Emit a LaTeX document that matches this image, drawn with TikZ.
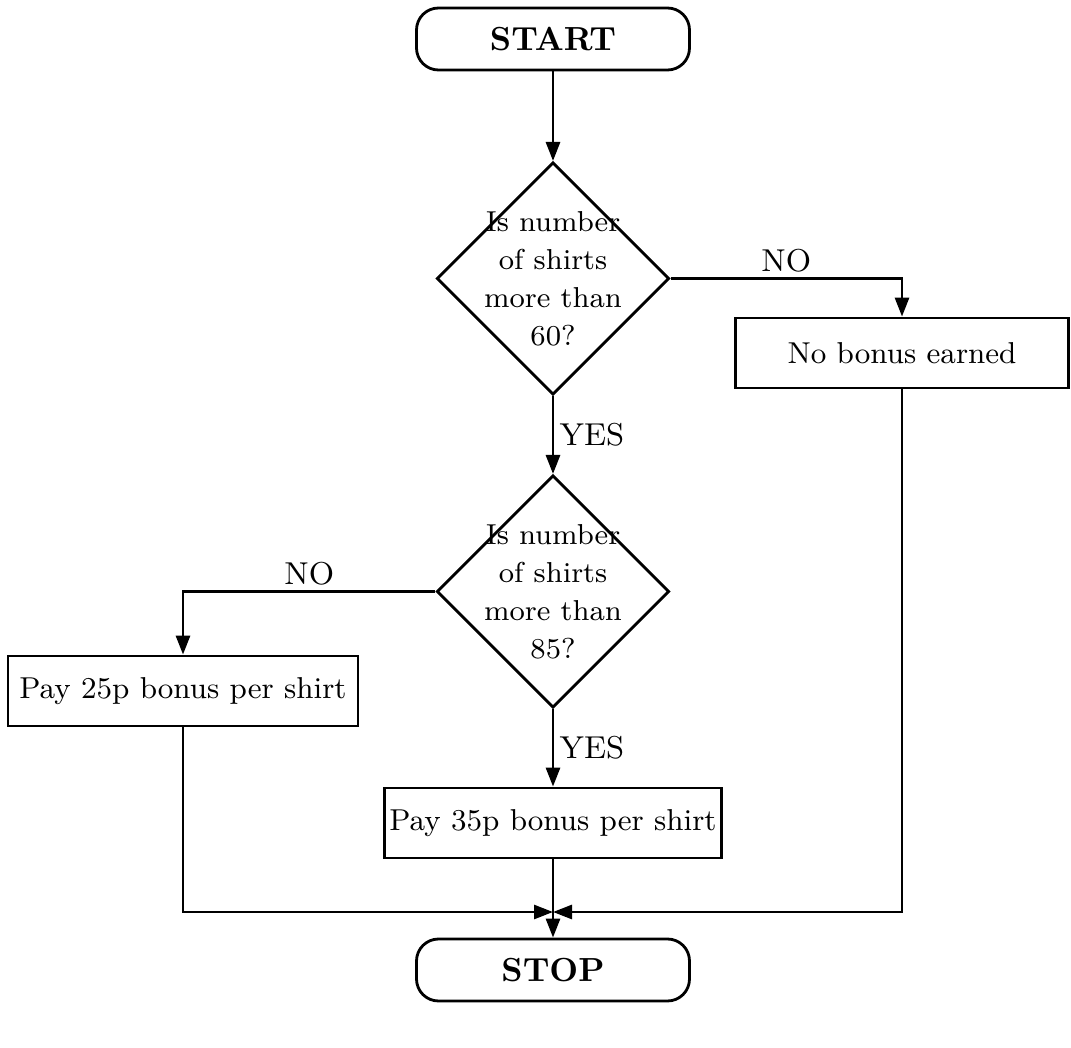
\documentclass[tikz,border=0pt]{standalone}
\usetikzlibrary{shapes.geometric,arrows.meta}

\begin{document}
\begin{tikzpicture}[
    terminal/.style={rectangle, rounded corners=0.22cm, draw, thick, minimum width=2.73cm, minimum height=0.62cm, font=\fontsize{9.5}{11}\selectfont\bfseries},
    decision/.style={diamond, draw, thick, align=center, inner sep=-1mm, minimum size=2.27cm, font=\fontsize{8.2}{10.8}\selectfont},
    process/.style={rectangle, draw, thick, minimum height=0.7cm, inner xsep=0.5mm, font=\fontsize{8.6}{11}\selectfont},
    answer/.style={font=\fontsize{9}{11}\selectfont, inner sep=1.5pt},
    flow/.style={thick, -{Triangle[length=1.9mm, width=1.4mm]}}
]
    \useasboundingbox (0,0) rectangle (10.71,-10.48);

    % start
    \node[terminal] (start) at (5.53,-0.39) {START};

    % first question
    \node[decision] (q60) at (5.53,-2.785) {Is number\\of shirts\\more than\\60?};
    \node[process, minimum width=3.33cm] (none) at (9.02,-3.53) {No bonus earned};

    % second question
    \node[decision] (q85) at (5.53,-5.915) {Is number\\of shirts\\more than\\85?};
    \node[process, minimum width=3.5cm] (pay25) at (1.83,-6.91) {Pay 25p bonus per shirt};
    \node[process, minimum width=3.35cm] (pay35) at (5.53,-8.23) {Pay 35p bonus per shirt};

    % stop
    \coordinate (join) at (5.53,-9.12);
    \node[terminal] (stop) at (5.53,-9.70) {STOP};

    \draw[flow] (start) -- (q60);
    \draw[flow] (q60.east) -| node[answer, pos=0.25, above] {NO} (none.north);
    \draw[flow] (q60.south) -- node[answer, midway, right] {YES} (q85.north);
    \draw[flow] (q85.west) -| node[answer, pos=0.25, above] {NO} (pay25.north);
    \draw[flow] (q85.south) -- node[answer, midway, right] {YES} (pay35.north);

    \draw[flow] (pay25.south) |- (join);
    \draw[flow] (none.south) |- (join);
    \draw[flow] (pay35.south) -- (stop.north);

\end{tikzpicture}
\end{document}
